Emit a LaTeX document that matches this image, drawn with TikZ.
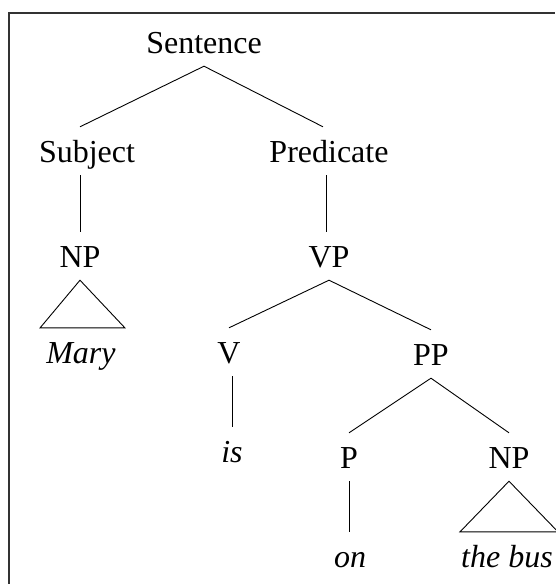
\documentclass[tikz,border=0pt]{standalone}
\usepackage{fontspec}
\setmainfont{Liberation Serif}
\begin{document}
\begin{tikzpicture}[x=1pt,y=-1pt,
  lab/.style={anchor=base,inner xsep=3pt,inner ysep=0pt,text height=35pt,text depth=13pt,font=\fontsize{32}{36}\selectfont},
  leaf/.style={lab,font=\fontsize{32}{36}\selectfont\itshape},
  edge/.style={line width=0.9pt,black},
  frame/.style={line width=1.3pt,black!80}]
\useasboundingbox (0,0) rectangle (555,584);
\draw[frame] (9,584) -- (9,13) -- (555,13);
\node[lab] (S) at (204,53) {Sentence};
\node[lab] (Subj) at (87,162) {Subject};
\node[lab] (Pred) at (329,162) {Predicate};
\node[lab] (NP1) at (80,267) {NP};
\node[leaf] (Mary) at (81,363) {Mary};
\node[lab] (VP) at (329,267) {VP};
\node[lab] (V) at (229,363) {V};
\node[leaf] (is) at (232,462) {is};
\node[lab] (PP) at (431,365) {PP};
\node[lab] (P) at (349,468) {P};
\node[leaf] (on) at (350,567) {on};
\node[lab] (NP2) at (509,468) {NP};
\node[leaf] (bus) at (507,567) {the bus};
\draw[edge] (Subj.north -| NP1.north) -- (S.south) -- ([xshift=-6pt]Pred.north);
\draw[edge] (Subj.south -| NP1.north) -- (NP1.north);
\draw[edge] ([xshift=-3pt]Pred.south) -- ([xshift=-3pt]VP.north);
\draw[edge] (V.north) -- (VP.south) -- (PP.north);
\draw[edge] (V.south -| is.north) -- (is.north);
\draw[edge] (P.north) -- (PP.south) -- (NP2.north);
\draw[edge] (P.south -| P.north) -- (on.north -| P.north);
\draw[edge,line join=miter] (NP1.south) -- ([xshift=-3pt]Mary.north west) -- ([xshift=6pt]Mary.north east) -- cycle;
\draw[edge,line join=miter] (NP2.south) -- ([xshift=2pt]bus.north west) -- ([xshift=2pt]bus.north east) -- cycle;
\end{tikzpicture}
\end{document}
